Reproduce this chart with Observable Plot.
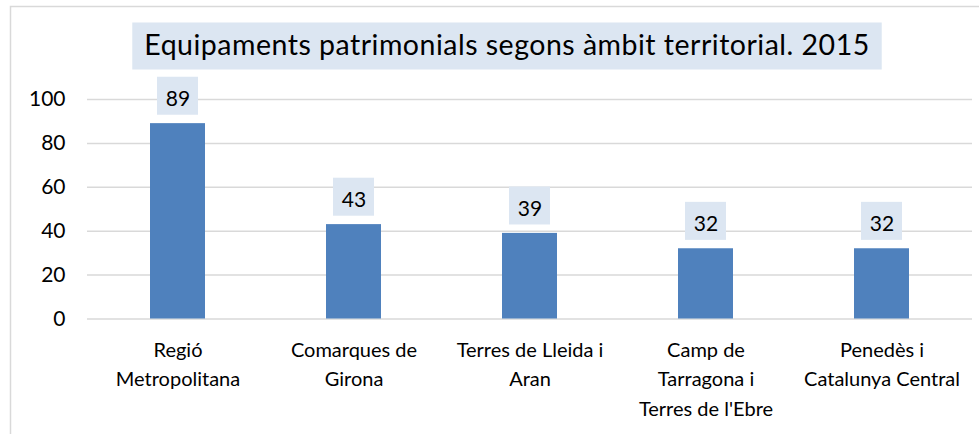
<!DOCTYPE html>
<html>
<head>
<meta charset="utf-8">
<script src="https://cdn.jsdelivr.net/npm/d3@7"></script>
<script src="https://cdn.jsdelivr.net/npm/@observablehq/plot@0.6"></script>
<style>
  html, body { margin: 0; padding: 0; background: #fff; }
  #chart { width: 979px; height: 434px; overflow: hidden; }
  svg { font-family: Lato, "Noto Sans", sans-serif; }
</style>
</head>
<body>
<div id="chart"></div>
<script>
const title = "Equipaments patrimonials segons àmbit territorial. 2015";
const categories = [
  "Regió Metropolitana",
  "Comarques de Girona",
  "Terres de Lleida i Aran",
  "Camp de Tarragona i Terres de l'Ebre",
  "Penedès i Catalunya Central"
];
const categoryLabels = [
  "Regió\nMetropolitana",
  "Comarques de\nGirona",
  "Terres de Lleida i\nAran",
  "Camp de\nTarragona i\nTerres de l'Ebre",
  "Penedès i\nCatalunya Central"
];
const values = [89, 43, 39, 32, 32];
const yTicks = [0, 20, 40, 60, 80, 100];

const data = categories.map((c, i) => ({cat: c, label: categoryLabels[i], value: values[i]}));

const chart = Plot.plot({
  width: 979,
  height: 434,
  marginLeft: 87,
  marginRight: 7,
  marginTop: 99,
  marginBottom: 115.5,
  style: {fontFamily: "Lato, 'Noto Sans', sans-serif", color: "#000", background: "#fff"},
  x: {domain: categories, paddingInner: 0.689, paddingOuter: 0.345, axis: null},
  y: {domain: [0, 100], axis: null},
  marks: [
    Plot.ruleY(yTicks, {stroke: "#d9d9d9", strokeWidth: 1.5}),
    Plot.axisY({ticks: yTicks, tickSize: 0, tickPadding: 22, fontSize: 21, label: null, fill: "#000"}),
    Plot.barY(data, {x: "cat", y: "value", fill: "#4f81bd"}),
    Plot.barY(data, {x: "cat", y1: "value", y2: "value", insetTop: -46.4, insetBottom: 8.4, insetLeft: 7, insetRight: 7, fill: "#dce6f2"}),
    Plot.text(data, {x: "cat", y: "value", text: d => String(d.value), dy: -17.7, lineAnchor: "bottom", fontSize: 21, fill: "#000"}),
    Plot.text(data, {x: "cat", y: () => 0, text: "label", lineAnchor: "top", lineHeight: 1.475, dy: 16.6, fontSize: 20, fill: "#000"}),
    Plot.text([title], {text: d => d, frameAnchor: "top", dx: -23, dy: -44.7, lineAnchor: "bottom", fontSize: 28.5, fill: "#000"})
  ]
});

document.getElementById("chart").appendChild(chart);

// decorations: title box and outer chart border
const svg = d3.select(chart);
const titleNode = svg.selectAll("text").filter(function () { return this.textContent === title; }).node();
if (titleNode) {
  titleNode.setAttribute("letter-spacing", "0.5");
  const bb = titleNode.getBBox();
  const boxH = 47;
  const rect = document.createElementNS("http://www.w3.org/2000/svg", "rect");
  rect.setAttribute("x", bb.x - 12);
  rect.setAttribute("width", bb.width + 24);
  rect.setAttribute("y", bb.y + bb.height / 2 - boxH / 2 + 2.2);
  rect.setAttribute("height", boxH);
  rect.setAttribute("fill", "#dce6f2");
  const t = titleNode.getAttribute("transform");
  if (t) rect.setAttribute("transform", t);
  titleNode.parentNode.insertBefore(rect, titleNode);
}
svg.append("rect")
  .attr("x", 10.5).attr("y", 6.5)
  .attr("width", 990).attr("height", 440)
  .attr("fill", "none").attr("stroke", "#d9d9d9").attr("stroke-width", 1.5);
</script>
</body>
</html>
